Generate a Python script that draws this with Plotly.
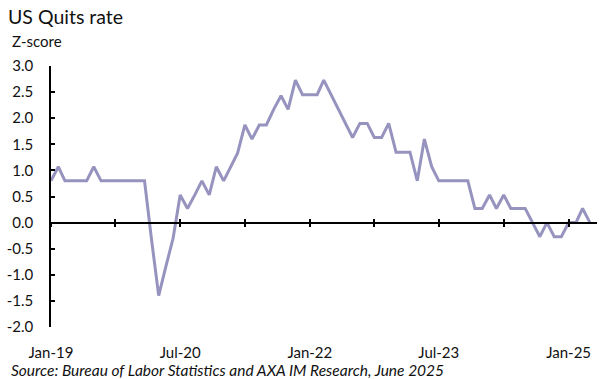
import plotly.graph_objects as go
import pandas as pd

# ---- data ----
start_month = "2019-01-01"
zscore = [
    0.80, 1.07, 0.80, 0.80, 0.80, 0.80, 1.07, 0.80, 0.80, 0.80, 0.80, 0.80,   # 2019
    0.80, 0.80, -0.30, -1.40, -0.85, -0.30, 0.53, 0.27, 0.53, 0.80, 0.53, 1.07,  # 2020
    0.80, 1.07, 1.33, 1.87, 1.60, 1.87, 1.87, 2.17, 2.43, 2.17, 2.73, 2.45,   # 2021
    2.45, 2.45, 2.73, 2.45, 2.17, 1.90, 1.63, 1.90, 1.90, 1.63, 1.63, 1.90,   # 2022
    1.35, 1.35, 1.35, 0.80, 1.60, 1.07, 0.80, 0.80, 0.80, 0.80, 0.80, 0.27,   # 2023
    0.27, 0.53, 0.27, 0.53, 0.27, 0.27, 0.27, 0.00, -0.27, 0.00, -0.27, -0.27,  # 2024
    0.00, 0.00, 0.27, 0.00,                                                   # 2025
]
y_tick_vals = [3.0, 2.5, 2.0, 1.5, 1.0, 0.5, 0.0, -0.5, -1.0, -1.5, -2.0]
y_tick_text = ["3.0", "2.5", "2.0", "1.5", "1.0", "0.5", "0.0", "-0.5", "-1.0", "-1.5", "-2.0"]
title_text = "US Quits rate"
unit_text = "Z-score"
source_text = "Source: Bureau of Labor Statistics and AXA IM Research, June 2025"

months = pd.date_range(start_month, periods=len(zscore), freq="MS")

# ---- layout geometry ----
W, H = 615, 379
ml, mr, mt, mb = 51, 18, 66, 52
pw, ph = W - ml - mr, H - mt - mb
y_range = [-2.0, 3.0]
x_range = ["2019-01-01", "2025-05-01"]
zero_pos = (0 - y_range[0]) / (y_range[1] - y_range[0])

FONT = "Lato, 'Open Sans', sans-serif"
TXT = "#111111"
LINE = "#9793BF"
TICK_SIZE = 15

fig = go.Figure()
fig.add_trace(go.Scatter(x=months, y=zscore, mode="lines",
                         line=dict(color=LINE, width=3),
                         xaxis="x", yaxis="y", showlegend=False,
                         hoverinfo="x+y"))
# invisible helpers so the overlay axes are drawn
for ax in ("x2", "x3"):
    fig.add_trace(go.Scatter(x=months, y=zscore, mode="lines",
                             line=dict(width=0, color="rgba(0,0,0,0)"),
                             xaxis=ax, yaxis="y", showlegend=False,
                             hoverinfo="skip"))

common_x = dict(type="date", range=x_range, showgrid=False, zeroline=False,
                automargin=False)

fig.update_layout(
    width=W, height=H,
    margin=dict(l=ml, r=mr, t=mt, b=mb),
    paper_bgcolor="white", plot_bgcolor="white",
    font=dict(family=FONT, size=TICK_SIZE, color=TXT),
    xaxis=dict(**common_x, anchor="free", position=zero_pos,
               showline=True, linecolor="black", linewidth=1.5,
               ticks="outside", ticklen=4, tickwidth=1.5, tickcolor="black",
               tick0=start_month, dtick="M9", showticklabels=False),
    xaxis3=dict(**common_x, overlaying="x", anchor="free", position=zero_pos,
                showline=False, ticks="inside", ticklen=4, tickwidth=1.5,
                tickcolor="black", tick0=start_month, dtick="M9",
                showticklabels=False),
    xaxis2=dict(**common_x, overlaying="x", anchor="y", side="bottom",
                showline=False, ticks="", tick0=start_month, dtick="M18",
                tickformat="%b-%y", ticklabelstandoff=15,
                tickfont=dict(family=FONT, size=TICK_SIZE, color=TXT)),
    yaxis=dict(range=y_range, showgrid=False, zeroline=False, automargin=False,
               showline=True, linecolor="black", linewidth=1.5,
               ticks="inside", ticklen=4, tickwidth=1.5, tickcolor="black",
               tickvals=y_tick_vals, ticktext=y_tick_text,
               ticklabelstandoff=13,
               tickfont=dict(family=FONT, size=TICK_SIZE, color=TXT)),
)

fig.add_annotation(text=title_text, xref="paper", yref="paper",
                   x=(6 - ml) / pw, y=1 + (mt - 17) / ph,
                   xanchor="left", yanchor="middle", showarrow=False,
                   font=dict(family=FONT, size=19.5, color=TXT))
fig.add_annotation(text=unit_text, xref="paper", yref="paper",
                   x=(10 - ml) / pw, y=1 + (mt - 41) / ph,
                   xanchor="left", yanchor="middle", showarrow=False,
                   font=dict(family=FONT, size=15, color=TXT))
fig.add_annotation(text="<i>" + source_text + "</i>", xref="paper", yref="paper",
                   x=(9 - ml) / pw, y=-(370 - (H - mb)) / ph,
                   xanchor="left", yanchor="middle", showarrow=False,
                   font=dict(family=FONT, size=15.5, color=TXT))

fig.write_html("out.html",
               config={"displayModeBar": False},
               post_script="document.body.style.margin='0px';"
                           "document.body.style.overflow='hidden';")
